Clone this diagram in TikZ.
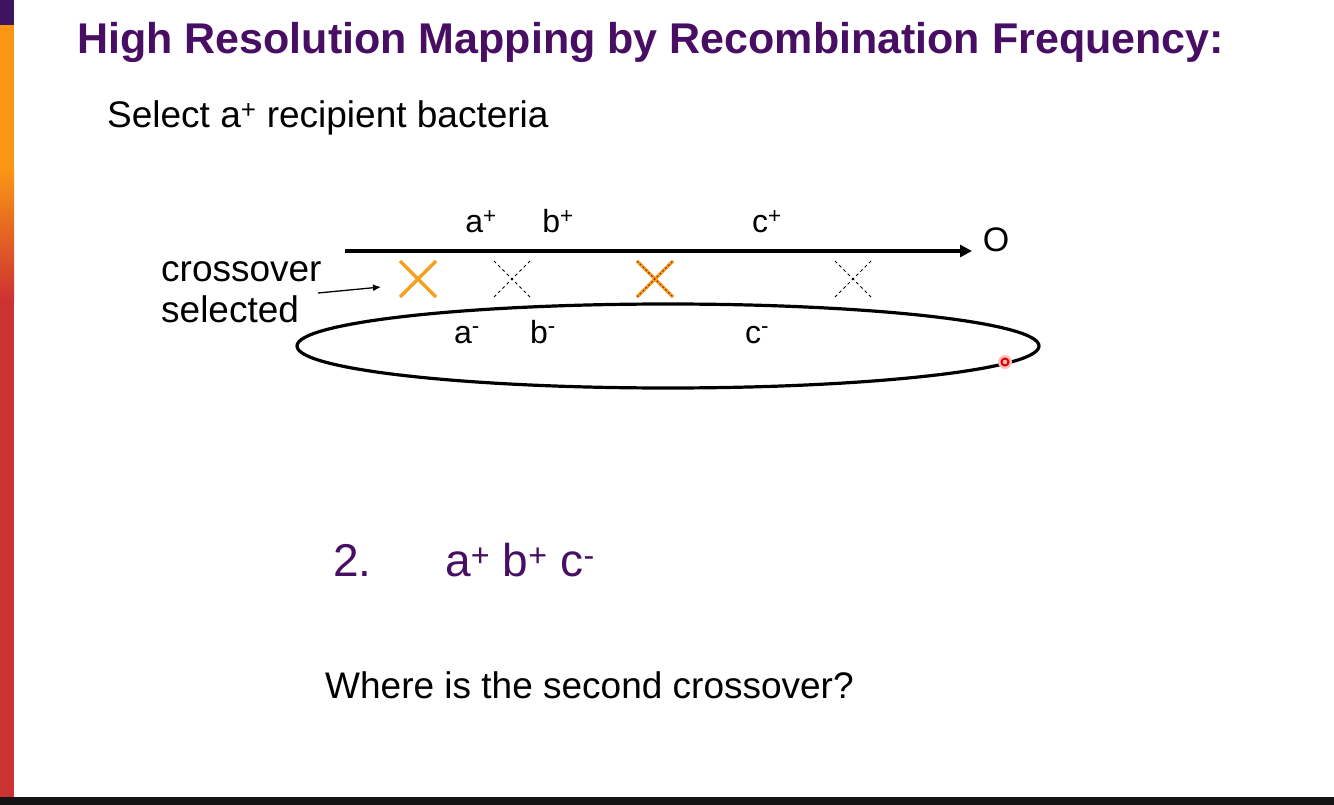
\documentclass[tikz,border=0pt]{standalone}
\usepackage{fontspec}
\setmainfont{Liberation Sans}
\usetikzlibrary{arrows.meta}
\definecolor{slidepurple}{RGB}{72,14,100}
\definecolor{crossorange}{RGB}{247,160,30}
\definecolor{crossred}{RGB}{150,30,40}
\definecolor{stripeorange}{RGB}{250,150,20}
\definecolor{stripered}{RGB}{205,50,50}
\definecolor{stripepurple}{RGB}{60,20,95}
\tikzset{
  gene/.style={anchor=base,inner sep=0pt,font=\fontsize{32}{32}\selectfont},
  bodytext/.style={anchor=base west,inner sep=0pt,font=\fontsize{37}{44}\selectfont},
  hardcross/.style={crossorange,line width=3.2pt},
  softcross/.style={black,line width=1pt,dash pattern=on 3pt off 3pt}
}
\begin{document}
\begin{tikzpicture}[x=1pt,y=-1pt]
  \useasboundingbox (0,0) rectangle (1334,805);
  \fill[white] (0,0) rectangle (1334,805);
  % side stripe and bottom bar
  \fill[stripepurple] (0,0) rectangle (14,25);
  \fill[stripeorange] (0,25) rectangle (14,170);
  \shade[top color=stripeorange,bottom color=stripered] (0,170) rectangle (14,300);
  \fill[stripered] (0,300) rectangle (14,797);
  \fill[black!92] (0,797) rectangle (1334,805);
  % texts
  \node[bodytext,font=\fontsize{43}{46}\selectfont\bfseries,text=slidepurple] (title) at (77,54) {High Resolution Mapping by Recombination Frequency:};
  \node[bodytext] (select) at (107,128) {Select a\textsuperscript{+} recipient bacteria};
  \node[bodytext] (cross1) at (161,282) {crossover};
  \node[bodytext] (cross2) at (161,323) {selected};
  % donor fragment
  \coordinate (tail) at (345,251);
  \coordinate (head) at (972,251);
  \draw[line width=3.4pt,-{Triangle[length=12pt,width=12pt]}] (tail) -- (head);
  \node[gene,font=\fontsize{34}{34}\selectfont] (origin) at (996,252) {O};
  \node[gene] (aplus) at (481,233) {a\textsuperscript{+}};
  \node[gene] (bplus) at (558,233) {b\textsuperscript{+}};
  \node[gene] (cplus) at (767,233) {c\textsuperscript{+}};
  % recipient chromosome
  \draw[line width=3.2pt] (668,346) ellipse (371pt and 42pt);
  \node[gene] (aminus) at (467,343) {a\textsuperscript{-}};
  \node[gene] (bminus) at (543,343) {b\textsuperscript{-}};
  \node[gene] (cminus) at (757,343) {c\textsuperscript{-}};
  % crossovers
  \draw[hardcross] (400,261) -- (436,297) (400,297) -- (436,261);
  \draw[softcross] (494,261) -- (530,297) (494,297) -- (530,261);
  \draw[hardcross] (637,261) -- (673,297) (637,297) -- (673,261);
  \draw[crossred,line width=1pt,dash pattern=on 2pt off 2pt] (637,261) -- (673,297) (637,297) -- (673,261);
  \draw[softcross] (835,261) -- (871,297) (835,297) -- (871,261);
  % pointer to selected crossover
  \coordinate (ptail) at (318,293);
  \coordinate (phead) at (381,287);
  \draw[line width=1.3pt,-{Latex[length=8pt,width=7pt]}] (ptail) -- (phead);
  % laser dot
  \fill[red!25] (1005,362) circle (7pt);
  \draw[red!90!black,line width=2pt] (1005,362) circle (3.5pt);
  % question
  \node[bodytext,font=\fontsize{46}{50}\selectfont,text=slidepurple] (num) at (333,576) {2.};
  \node[bodytext,font=\fontsize{46}{50}\selectfont,text=slidepurple] (result) at (445,576) {a\textsuperscript{+} b\textsuperscript{+} c\textsuperscript{-}};
  \node[bodytext] (question) at (325,698) {Where is the second crossover?};
\end{tikzpicture}
\end{document}
